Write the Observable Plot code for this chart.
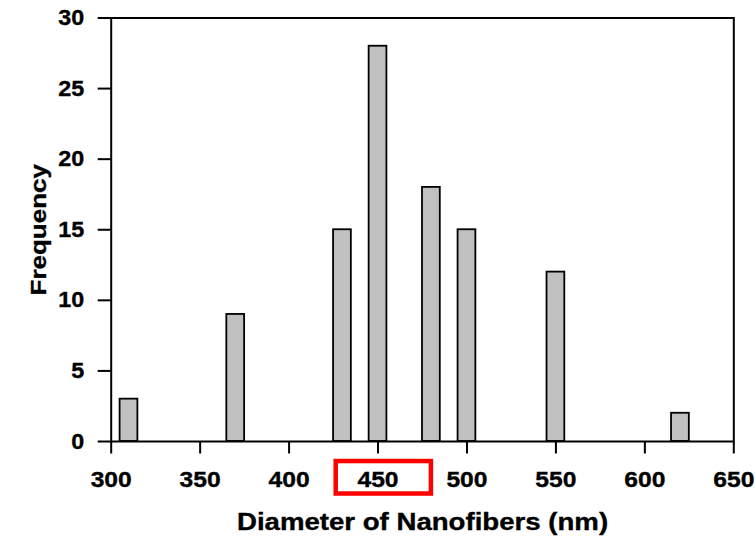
<!DOCTYPE html>
<html><head><meta charset="utf-8">
<script src="https://cdn.jsdelivr.net/npm/d3@7"></script>
<script src="https://cdn.jsdelivr.net/npm/@observablehq/plot@0.6"></script>
<style>body{margin:0;background:#fff}</style>
</head><body><div id="chart"></div>
<script>
const diameters = [310, 370, 430, 450, 480, 500, 550, 620];
const frequencies = [3, 9, 15, 28, 18, 15, 12, 2];
const xTicks = [300, 350, 400, 450, 500, 550, 600, 650];
const yTicks = [0, 5, 10, 15, 20, 25, 30];
const xTitle = "Diameter of Nanofibers (nm)";
const yTitle = "Frequency";
const binWidth = 10;
// red annotation box around the "450" tick label (data units)
const highlightX = [426.5, 480];
const highlightY = [-1.42, -3.72];

const bars = diameters.map((d, i) => ({diameter: d, frequency: frequencies[i]}));
const highlight = [{x1: highlightX[0], x2: highlightX[1], y1: highlightY[0], y2: highlightY[1]}];

const chart = Plot.plot({
  width: 755, height: 537,
  marginLeft: 110.7, marginRight: 21.7, marginTop: 17.5, marginBottom: 96,
  style: {fontFamily: "'Liberation Sans', Arial, sans-serif", fontWeight: "bold", color: "#000", background: "#fff"},
  x: {domain: [300, 650]},
  y: {domain: [0, 30]},
  marks: [
    Plot.rectY(bars, {x1: d => d.diameter - binWidth / 2, x2: d => d.diameter + binWidth / 2, y: "frequency", fill: "#c0c0c0", stroke: "#000", strokeWidth: 1.8}),
    Plot.frame({stroke: "#000", strokeWidth: 2}),
    Plot.axisX({ticks: xTicks, tickSize: 12.5, tickPadding: 17.5, strokeWidth: 2, fontSize: 22, label: xTitle, labelAnchor: "center", labelOffset: 88, labelArrow: "none"}),
    Plot.axisY({ticks: yTicks, tickSize: 13, tickPadding: 14, strokeWidth: 2, fontSize: 22, label: yTitle, labelAnchor: "center", labelOffset: 80.7, labelArrow: "none"}),
    Plot.rect(highlight, {x1: "x1", x2: "x2", y1: "y1", y2: "y2", fill: "none", stroke: "#ff0000", strokeWidth: 4.5})
  ]
});
document.getElementById("chart").append(chart);

function stretch(selector, factor, fontSize) {
  chart.querySelectorAll(selector).forEach(t => {
    if (fontSize) t.style.fontSize = fontSize + "px";
    t.style.stroke = "#000";
    t.style.strokeWidth = "0.35px";
    const L = t.getComputedTextLength();
    t.setAttribute("textLength", L * factor);
    t.setAttribute("lengthAdjust", "spacingAndGlyphs");
  });
}
stretch('g[aria-label="x-axis tick label"] text', 1.12);
stretch('g[aria-label="y-axis tick label"] text', 1.06);
stretch('g[aria-label="x-axis label"] text', 1.2, 23);
stretch('g[aria-label="y-axis label"] text', 1.18, 22);
</script>
</body></html>
